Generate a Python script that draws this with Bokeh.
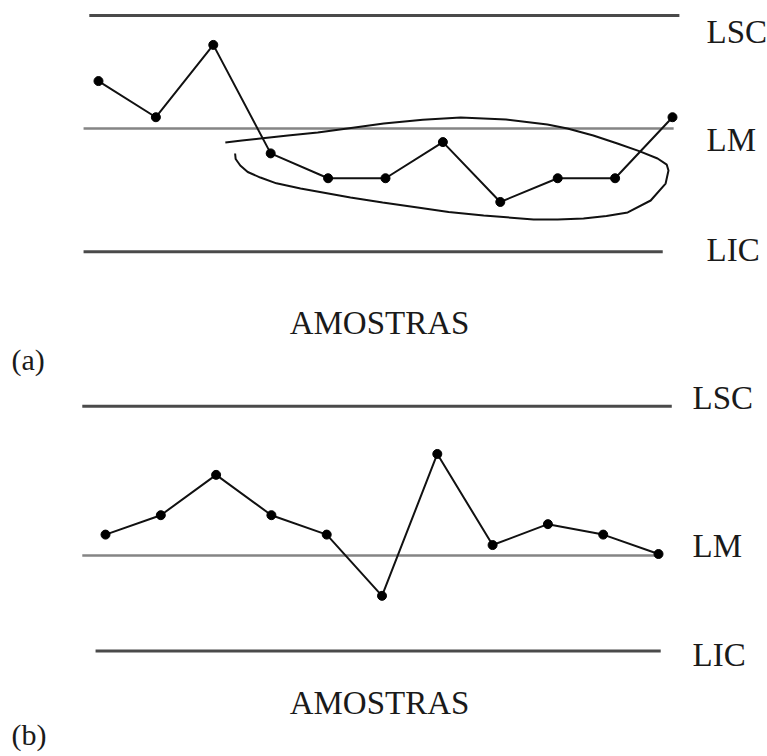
from bokeh.plotting import figure
from bokeh.layouts import column
from bokeh.models import Range1d, Label
from bokeh.embed import file_html
from bokeh.resources import INLINE

# ---------------- data ----------------
amostras = [1, 2, 3, 4, 5, 6, 7, 8, 9, 10, 11]

# panel (a): values relative to LM (arbitrary units)
serie_a = [4.2, 1.0, 7.4, -2.2, -4.4, -4.4, -1.2, -6.5, -4.4, -4.4, 1.0]
lsc_a = 10.0
lm_a = 0.0
lic_a = -10.9

# panel (b)
serie_b = [1.4, 2.7, 5.4, 2.7, 1.4, -2.7, 6.8, 0.7, 2.1, 1.4, 0.1]
lsc_b = 10.0
lm_b = 0.0
lic_b = -6.4

# hand-drawn loop around the run of points below LM in (a) (data units)
laco_x = [3.21, 3.50, 3.82, 4.30, 4.82, 5.40, 5.97, 6.65, 7.31, 8.10, 8.82, 9.17,
          9.62, 10.04, 10.42, 10.74, 10.90, 10.93, 10.88, 10.62, 10.22, 9.85,
          9.45, 9.00, 8.58, 7.71, 7.10, 6.56, 5.95, 5.39, 4.52, 4.10, 3.82, 3.60,
          3.47, 3.39, 3.38]
laco_y = [-1.24, -1.05, -0.88, -0.62, -0.35, 0.05, 0.44, 0.78, 0.97, 0.80, 0.35, 0.0,
          -0.62, -1.33, -2.00, -2.65, -3.20, -3.72, -4.87, -6.37, -7.43, -7.75,
          -7.96, -8.05, -8.05, -7.70, -7.38, -6.99, -6.55, -6.11, -5.31, -4.85, -4.34, -3.85,
          -3.27, -2.70, -2.21]

rotulos = ["LSC", "LM", "LIC"]
eixo_titulo = "AMOSTRAS"

# ---------------- styling / layout ----------------
W = 767
FONT = "Liberation Serif"
TXT = "#1a1a1a"
LIM_COLOR = "#4a4a4a"
LM_COLOR = "#858585"


def make_fig(h, xr, yr):
    p = figure(width=W, height=h, x_range=Range1d(*xr), y_range=Range1d(*yr),
               toolbar_location=None, output_backend="svg", min_border=0,
               x_axis_location=None, y_axis_location=None,
               outline_line_color=None, background_fill_color="white",
               border_fill_color="white")
    p.xgrid.visible = False
    p.ygrid.visible = False
    return p


def mapper(xr, yr, top, h):
    def fx(px):
        return xr[0] + px / W * (xr[1] - xr[0])

    def fy(py):
        return yr[1] - (py - top) / h * (yr[1] - yr[0])
    return fx, fy


def label(p, x, y, text, size="33px", align="left"):
    p.add_layout(Label(x=x, y=y, text=text, text_font=FONT, text_font_size=size,
                       text_color=TXT, text_baseline="middle", text_align=align))


# ---------- panel (a) ----------
HA = 380
xr_a = (-0.707, 12.655)
yr_a = (-22.30, 11.33)
pa = make_fig(HA, xr_a, yr_a)
fxa, fya = mapper(xr_a, yr_a, 0, HA)

pa.line([0.84, 11.12], [lsc_a, lsc_a], line_color=LIM_COLOR, line_width=3)
pa.line([0.74, 11.02], [lm_a, lm_a], line_color=LM_COLOR, line_width=2.5)
pa.line([0.74, 10.83], [lic_a, lic_a], line_color=LIM_COLOR, line_width=3)

pa.line(laco_x, laco_y, line_color="#111111", line_width=2)
pa.line(amostras, serie_a, line_color="#111111", line_width=2)
pa.scatter(amostras, serie_a, size=9, color="#000000")

for t, py in zip(rotulos, [31, 139, 249]):
    label(pa, fxa(706), fya(py), t)
label(pa, fxa(379), fya(322), eixo_titulo, align="center")
label(pa, fxa(11), fya(359), "(a)", size="30px")

# ---------- panel (b) ----------
HB = 376
xr_b = (-0.899, 12.971)
yr_b = (-13.46, 11.72)
pb = make_fig(HB, xr_b, yr_b)
fxb, fyb = mapper(xr_b, yr_b, 380, HB)

pb.line([0.58, 11.24], [lsc_b, lsc_b], line_color=LIM_COLOR, line_width=3)
pb.line([0.58, 11.04], [lm_b, lm_b], line_color=LM_COLOR, line_width=2.5)
pb.line([0.82, 11.04], [lic_b, lic_b], line_color=LIM_COLOR, line_width=3)

pb.line(amostras, serie_b, line_color="#111111", line_width=2)
pb.scatter(amostras, serie_b, size=9, color="#000000")

for t, py in zip(rotulos, [397, 545, 654]):
    label(pb, fxb(692), fyb(py), t)
label(pb, fxb(379), fyb(702), eixo_titulo, align="center")
label(pb, fxb(11), fyb(734), "(b)", size="30px")

layout = column(pa, pb, spacing=0)
open("out.html", "w").write(file_html(layout, INLINE))
